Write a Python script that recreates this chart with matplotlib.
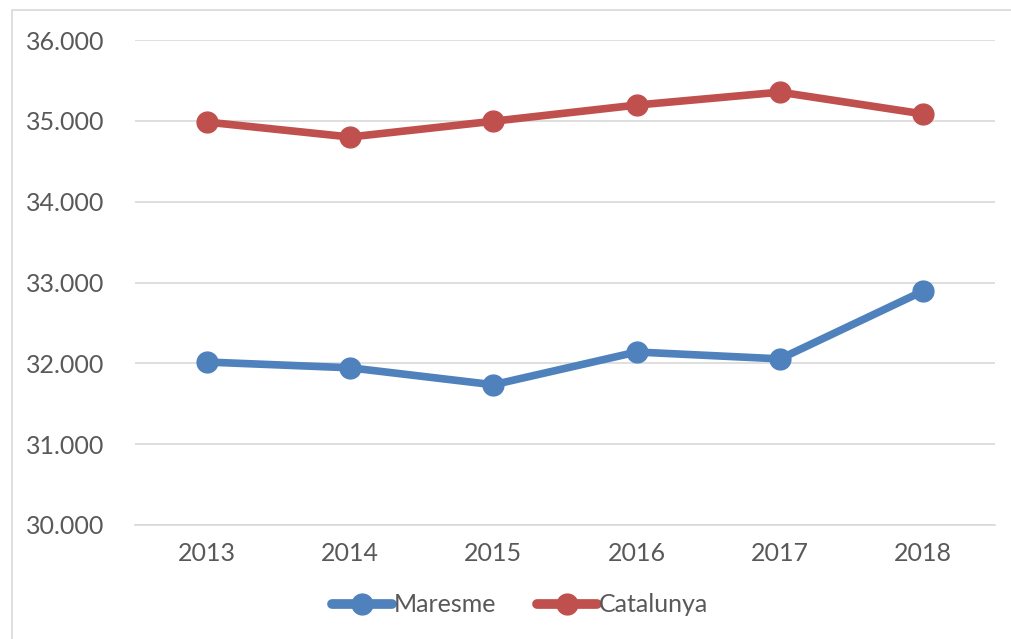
import matplotlib
matplotlib.use("Agg")
import matplotlib.pyplot as plt
from matplotlib.patches import Rectangle
from matplotlib.ticker import FuncFormatter

years = ["2013", "2014", "2015", "2016", "2017", "2018"]
maresme = [32016, 31945, 31735, 32140, 32055, 32895]
catalunya = [34985, 34800, 34995, 35195, 35355, 35085]

plt.rcParams['font.family'] = ['Lato', 'DejaVu Sans']
text_color = "#595959"

fig = plt.figure(figsize=(10.12, 6.39), dpi=100)
fig.patches.append(Rectangle((12/1012, -0.01), 1.0, 1 - 10/639 + 0.01, transform=fig.transFigure,
                             fill=False, edgecolor="#d9d9d9", linewidth=1.2))
ax = fig.add_axes([135/1012, 1 - 525/639, (995 - 135)/1012, (525 - 40)/639])

x = list(range(len(years)))
ax.plot(x, maresme, color="#4f81bd", linewidth=5.5, marker="o", markersize=15,
        solid_capstyle="round", label="Maresme", zorder=3)
ax.plot(x, catalunya, color="#c0504d", linewidth=5.5, marker="o", markersize=15,
        solid_capstyle="round", label="Catalunya", zorder=3)

ax.set_xlim(-0.5, len(years) - 0.5)
ax.set_ylim(30000, 36000)
ax.set_yticks(range(30000, 36001, 1000))
ax.yaxis.set_major_formatter(FuncFormatter(lambda v, p: f"{int(v):,}".replace(",", ".")))
ax.set_xticks(x)
ax.set_xticklabels(years)
ax.grid(axis="y", color="#d9d9d9", linewidth=1.2)
ax.set_axisbelow(True)
for s in ["top", "right", "left"]:
    ax.spines[s].set_visible(False)
ax.spines["bottom"].set_color("#d9d9d9")
ax.spines["bottom"].set_linewidth(1.2)
ax.tick_params(axis="both", length=0, labelsize=18, colors=text_color)
ax.tick_params(axis="y", pad=22)
ax.tick_params(axis="x", pad=12)

leg = fig.legend(loc="center", bbox_to_anchor=(520/1012, 1 - 605/639), ncol=2, frameon=False,
                 fontsize=18, handlelength=2.4, columnspacing=1.6, handletextpad=0.1, markerscale=1.0)
for t in leg.get_texts():
    t.set_color(text_color)
for h in leg.legend_handles:
    h.set_linewidth(7)

fig.savefig("out.png", dpi=100)
